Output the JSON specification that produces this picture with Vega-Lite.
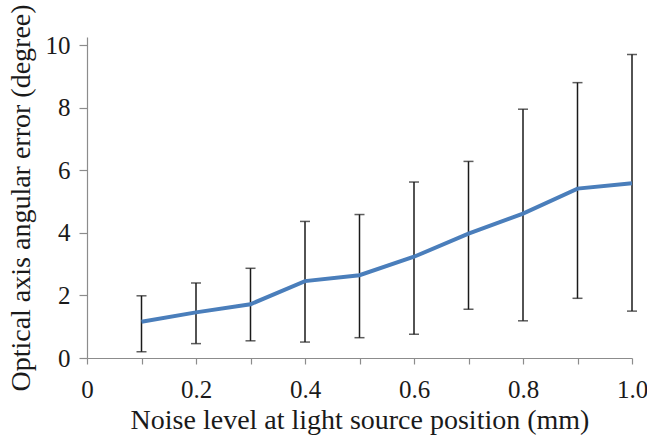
{
  "$schema": "https://vega.github.io/schema/vega-lite/v6.json",
  "width": 545,
  "height": 321,
  "autosize": {"type": "none"},
  "padding": {"left": 87, "top": 37, "right": 15, "bottom": 84},
  "background": "white",
  "config": {
    "view": {"stroke": null},
    "font": "Liberation Serif",
    "axis": {
      "grid": false,
      "domainColor": "#8c8c8c",
      "tickColor": "#8c8c8c",
      "domainWidth": 1.2,
      "tickWidth": 1.2,
      "labelFont": "Liberation Serif",
      "titleFont": "Liberation Serif",
      "labelFontSize": 25,
      "titleFontSize": 28,
      "labelColor": "#1a1a1a",
      "titleColor": "#1a1a1a",
      "titleFontWeight": "normal"
    }
  },
  "data": {
    "values": [
      {"noise": 0.1, "err": 1.16, "lo": 0.20, "hi": 1.99},
      {"noise": 0.2, "err": 1.46, "lo": 0.46, "hi": 2.40},
      {"noise": 0.3, "err": 1.72, "lo": 0.55, "hi": 2.87},
      {"noise": 0.4, "err": 2.46, "lo": 0.51, "hi": 4.37},
      {"noise": 0.5, "err": 2.65, "lo": 0.65, "hi": 4.59},
      {"noise": 0.6, "err": 3.24, "lo": 0.76, "hi": 5.63},
      {"noise": 0.7, "err": 3.98, "lo": 1.56, "hi": 6.29},
      {"noise": 0.8, "err": 4.62, "lo": 1.19, "hi": 7.96},
      {"noise": 0.9, "err": 5.42, "lo": 1.91, "hi": 8.81},
      {"noise": 1.0, "err": 5.59, "lo": 1.50, "hi": 9.71}
    ]
  },
  "encoding": {
    "x": {
      "field": "noise",
      "type": "quantitative",
      "scale": {"domain": [0, 1], "nice": false, "zero": true},
      "axis": {
        "title": "Noise level at light source position (mm)",
        "values": [0, 0.1, 0.2, 0.3, 0.4, 0.5, 0.6, 0.7, 0.8, 0.9, 1.0],
        "labelExpr": "datum.value == 0 ? '0' : (round(datum.value*10) % 2 == 0 ? format(datum.value, '.1f') : '')",
        "labelFont": "Liberation Serif",
        "titleFont": "Liberation Serif",
        "tickSize": 6,
        "labelPadding": 13,
        "titlePadding": 4,
        "labelFlush": false,
        "labelOverlap": false
      }
    }
  },
  "layer": [
    {
      "mark": {"type": "rule", "color": "#1a1a1a", "strokeWidth": 1.5},
      "encoding": {
        "y": {"field": "lo", "type": "quantitative"},
        "y2": {"field": "hi"}
      }
    },
    {
      "mark": {"type": "tick", "orient": "horizontal", "color": "#1a1a1a", "size": 10, "thickness": 1.5},
      "encoding": {"y": {"field": "lo", "type": "quantitative"}}
    },
    {
      "mark": {"type": "tick", "orient": "horizontal", "color": "#1a1a1a", "size": 10, "thickness": 1.5},
      "encoding": {"y": {"field": "hi", "type": "quantitative"}}
    },
    {
      "mark": {"type": "line", "color": "#4a7ebb", "strokeWidth": 4},
      "encoding": {
        "y": {
          "field": "err",
          "type": "quantitative",
          "scale": {"domain": [0, 10.27], "nice": false},
          "axis": {
            "title": "Optical axis angular error (degree)",
            "values": [0, 2, 4, 6, 8, 10],
            "labelFont": "Liberation Serif",
            "titleFont": "Liberation Serif",
            "tickSize": 8,
            "labelPadding": 9,
            "titlePadding": 10
          }
        }
      }
    }
  ]
}
